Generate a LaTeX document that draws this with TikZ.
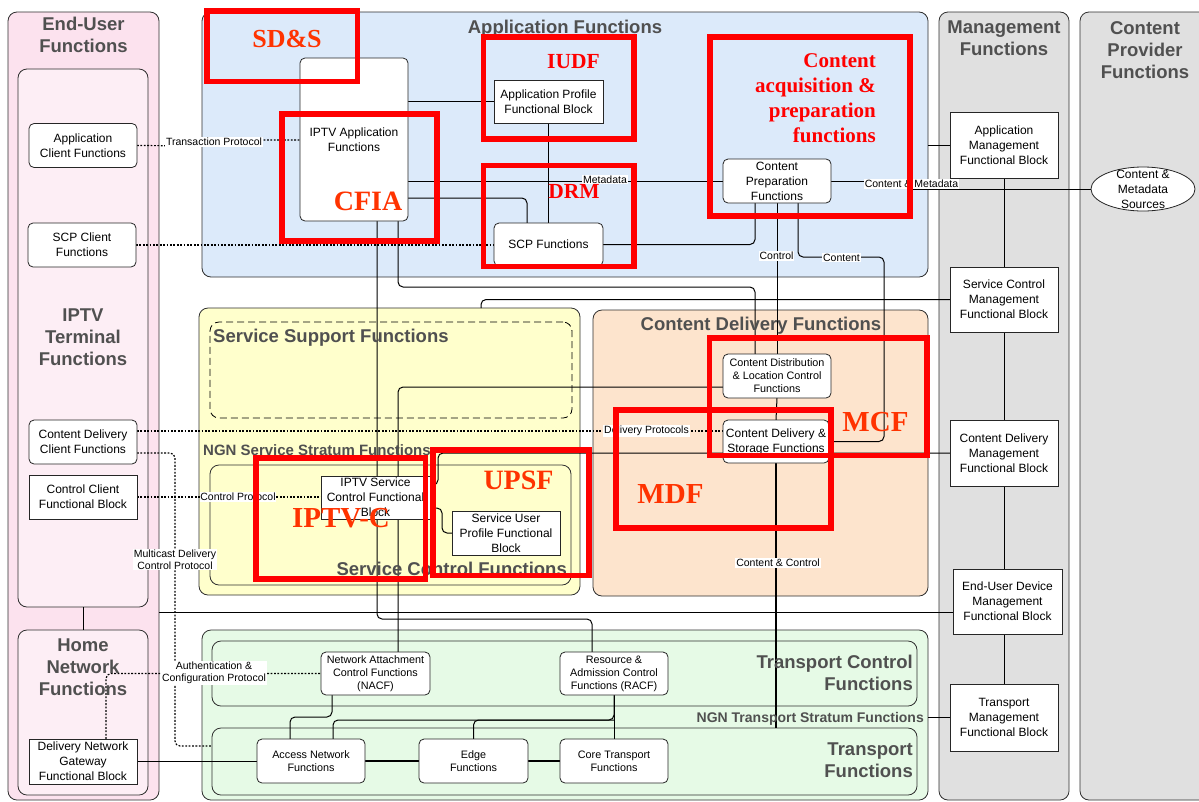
\documentclass[tikz,border=0pt]{standalone}
\usepackage{fontspec}
\setmainfont{Liberation Sans}
\newfontfamily\tagserif{Liberation Serif}
\usetikzlibrary{calc,shapes.geometric}
\pgfdeclarelayer{zones}
\pgfdeclarelayer{wires}
\pgfdeclarelayer{marks}
\pgfsetlayers{zones,wires,main,marks}

\definecolor{pinkA}{RGB}{252,226,238}
\definecolor{pinkB}{RGB}{253,238,245}
\definecolor{appblue}{RGB}{220,234,250}
\definecolor{ssyellow}{RGB}{255,255,204}
\definecolor{cdpeach}{RGB}{253,228,205}
\definecolor{trgreen}{RGB}{230,250,230}
\definecolor{mgray}{RGB}{224,224,224}
\definecolor{titlegray}{RGB}{80,80,80}
\definecolor{tagred}{RGB}{255,0,0}
\definecolor{tagorange}{RGB}{255,51,0}

\tikzset{
  zone/.style={draw=black!82, line width=0.8pt, rounded corners=9pt, anchor=north west, inner sep=0pt, outer sep=0pt},
  fb/.style={draw=black!85, line width=0.8pt, fill=white, rounded corners=5pt, align=center, inner sep=0pt, outer sep=0pt,
    minimum width=108pt, minimum height=44pt, font=\fontsize{12}{15}\selectfont},
  fbsq/.style={fb, sharp corners},
  fbsm/.style={fb, font=\fontsize{10.8}{13}\selectfont},
  mgblock/.style={fbsq, minimum height=66pt},
  ttl/.style={font=\bfseries\fontsize{18.5}{22}\selectfont, text=titlegray, align=center, inner sep=0pt},
  subttl/.style={font=\bfseries\fontsize{14.5}{17}\selectfont, text=titlegray, inner sep=0pt},
  lab/.style={fill=white, inner sep=0.8pt, font=\fontsize{10.5}{12.5}\selectfont, align=center},
  link/.style={draw=black, line width=1pt, rounded corners=5pt},
  heavylink/.style={draw=black, line width=1.9pt},
  dotlink/.style={draw=black, line width=1.2pt, dash pattern=on 1.8pt off 1.6pt, rounded corners=5pt},
  redframe/.style={draw=tagred, line width=5.5pt},
  redtag/.style={font=\tagserif\bfseries\fontsize{28}{30}\selectfont, text=tagorange, inner sep=0pt},
}

\begin{document}
\begin{tikzpicture}[x=1pt,y=-1pt]
\useasboundingbox (0,0) rectangle (1199,801);

% ---------- functional areas ----------
\begin{pgfonlayer}{zones}
\fill[white] (0,0) rectangle (1199,801);
\begin{scope}
\clip (0,0) rectangle (1199,801);
\node[zone, fill=pinkA, minimum width=151pt, minimum height=788pt] (eu) at (8,12) {};
\node[zone, fill=pinkB, minimum width=130pt, minimum height=538pt] (term) at (18,69) {};
\node[zone, fill=pinkB, minimum width=130pt, minimum height=165pt] (home) at (18,630) {};
\node[zone, fill=appblue, minimum width=726pt, minimum height=265pt] (app) at (202,12) {};
\node[zone, fill=ssyellow, minimum width=381pt, minimum height=287pt] (ngnss) at (199,308) {};
\node[zone, draw=black, dash pattern=on 7pt off 4pt, minimum width=362pt, minimum height=96pt] (ssf) at (210,322) {};
\node[zone, minimum width=361pt, minimum height=120pt] (scf) at (210,465) {};
\node[zone, fill=cdpeach, minimum width=335pt, minimum height=286pt] (cdf) at (593,310) {};
\node[zone, fill=trgreen, minimum width=726pt, minimum height=170pt] (trans) at (202,630) {};
\node[zone, minimum width=705pt, minimum height=65pt] (tcf) at (212,641) {};
\node[zone, minimum width=705pt, minimum height=67pt] (tf) at (212,728) {};
\node[zone, fill=mgray, minimum width=130pt, minimum height=788pt] (mgmt) at (939,12) {};
\node[zone, fill=mgray, minimum width=130pt, minimum height=788pt] (cpz) at (1080,12) {};
\end{scope}
\end{pgfonlayer}

% ---------- area titles ----------
\node[ttl] at (83.5,34.5) {End-User\\Functions};
\node[ttl] at (83,337) {IPTV\\Terminal\\Functions};
\node[ttl] at (83,667) {Home\\Network\\Functions};
\node[ttl] at (565,29) {Application Functions};
\node[ttl] at (1004,38.5) {Management\\Functions};
\node[ttl] at (1145,50) {Content\\Provider\\Functions};
\node[ttl, anchor=west] at (213,338) {Service Support Functions};
\node[subttl, font=\bfseries\fontsize{15}{17}\selectfont, anchor=west] at (203,450) {NGN Service Stratum Functions};
\node[ttl, anchor=east] at (567,568.5) {Service Control Functions};
\node[ttl] at (761,326) {Content Delivery Functions};
\node[ttl, anchor=east, align=right] at (913,673) {Transport Control\\Functions};
\node[subttl, font=\bfseries\fontsize{14}{17}\selectfont, anchor=east] at (924,718.5) {NGN Transport Stratum Functions};
\node[ttl, anchor=east, align=right] at (913,760.5) {Transport\\Functions};

% ---------- functional blocks ----------
\node[fb] (acf) at (83,145.5) {Application\\Client Functions};
\node[fb] (scpc) at (82,245) {SCP Client\\Functions};
\node[fb] (cdcf) at (83,442) {Content Delivery\\Client Functions};
\node[fbsq] (ccfb) at (83,497) {Control Client\\Functional Block};
\node[fbsq, minimum height=45pt] (dngw) at (83,761.5) {Delivery Network\\Gateway\\Functional Block};

\node[fb, minimum height=163pt] (iptvapp) at (354,139.5) {IPTV Application\\Functions};
\node[fbsq, minimum width=109pt, minimum height=43pt] (apfb) at (548.5,101.5) {Application Profile\\Functional Block};
\node[fb, minimum width=109pt, minimum height=43pt] (scpf) at (548.5,244.5) {SCP Functions};
\node[fb] (cpf) at (777,181) {Content\\Preparation\\Functions};
\node[draw=black!85, line width=0.8pt, fill=white, ellipse, minimum width=104pt, minimum height=44pt, inner sep=0pt] (cms) at (1143,189) {};
\node[font=\fontsize{12}{15}\selectfont, align=center, inner sep=0pt] (cmstext) at (cms.center) {Content \&\\Metadata\\Sources};

\node[mgblock] (amfb) at (1004,145) {Application\\Management\\Functional Block};
\node[mgblock, minimum height=65pt] (scmfb) at (1004,299.5) {Service Control\\Management\\Functional Block};
\node[mgblock] (cdmfb) at (1004,453) {Content Delivery\\Management\\Functional Block};
\node[mgblock, minimum width=109pt, minimum height=65pt] (eudmfb) at (1007.5,601.5) {End-User Device\\Management\\Functional Block};
\node[mgblock, minimum height=67pt] (tmfb) at (1004,717.5) {Transport\\Management\\Functional Block};

\node[fbsm] (cdlc) at (777,376) {Content Distribution\\\& Location Control\\Functions};
\node[fb, minimum width=106pt, minimum height=43pt] (cds) at (776,441.5) {Content Delivery \&\\Storage Functions};

\node[fbsq, minimum width=109pt, minimum height=43pt] (iptvscfb) at (375.5,497.5) {IPTV Service\\Control Functional\\Block};
\node[fbsq] (supfb) at (506,533) {Service User\\Profile Functional\\Block};

\node[fbsm, minimum width=109pt, minimum height=43pt] (nacf) at (375.5,673.5) {Network Attachment\\Control Functions\\(NACF)};
\node[fbsm, minimum height=43pt] (racf) at (614,673.5) {Resource \&\\Admission Control\\Functions (RACF)};
\node[fbsm] (anf) at (311,761) {Access Network\\Functions};
\node[fbsm, minimum width=109pt] (ef) at (473.5,761) {Edge\\Functions};
\node[fbsm] (ctf) at (614,761) {Core Transport\\Functions};

% ---------- connectors ----------
\begin{pgfonlayer}{wires}
% protocols towards the terminal
\draw[dotlink, rounded corners=0pt] (acf.east) -- (214,146) -- (214,140) -- (iptvapp.west |- 0,140);
\draw[dotlink] (scpc.east) -- (scpc.east -| scpf.west);
\coordinate (dp) at ($(cdcf.east)+(0,-11)$);
\draw[dotlink] (dp) -- (dp -| cds.west);
\coordinate (mc) at ($(cdcf.east)+(0,11)$);
\draw[dotlink] (mc) -- (175,453) -- (175,746) -- (tf.west |- 0,746);
\draw[dotlink] (ccfb.east) -- (ccfb.east -| iptvscfb.west);
\draw[dotlink] ($(dngw.north)+(23,0)$) |- (nacf.west);

% application functions
\draw[link] (apfb.west -| iptvapp.east) -- (apfb.west);
\draw[link] (apfb.south) -- (scpf.north);
\draw[link] (cpf.west -| iptvapp.east) -- (cpf.west);
\draw[link] ($(iptvapp.east)+(0,58.5)$) -| ($(scpf.north)+(-21.5,0)$);
\draw[link] (scpf.east) -| ($(cpf.south)+(-22,0)$);
\draw[link] (cpf.south) -- (cdlc.north);
\draw[link] ($(cpf.south)+(21,0)$) |- (884,257) |- (cds.east);
\draw[link, rounded corners=0pt] (cpf.east) -- (912,181) -- (912,189) -- (cms.west);

% links leaving the IPTV application functions
\draw[link] ($(iptvapp.south)+(44,0)$) -- ++(0,66) -| ($(cdlc.north)+(-22,0)$);
\draw[link] ($(iptvapp.south)+(23,0)$) |- ($(racf.north)+(-22,-33)$) -- ($(racf.north)+(-22,0)$);

% content delivery
\draw[link] ($(cdlc.west)+(0,11)$) -| ($(nacf.north)+(22.5,0)$);
\draw[link] (cdlc.south) -- (cds.north);
\draw[heavylink] (cds.south) -- (cds.south |- tf.north);

% service control
\draw[link] ($(iptvscfb.east)+(0,-12.5)$) -- ++(8,0) |- (cdmfb.west);
\draw[link] ($(iptvscfb.east)+(0,10.5)$) -- ++(12,0) |- (supfb.west);

% management functions
\draw[link] ($(ngnss.north west)+(282,0)$) |- (scmfb.west);
\coordinate (eul) at ($(eudmfb.west)+(0,10.5)$);
\draw[link] (eul -| eu.east) -- (eul);
\draw[link] (amfb.west -| app.east) -- (amfb.west);
\draw[link] (tmfb.west -| trans.east) -- (tmfb.west);
\draw[link] (amfb.south) -- (scmfb.north);
\draw[link] (scmfb.south) -- (cdmfb.north);
\draw[link] (cdmfb.south) -- (cdmfb.south |- eudmfb.north);
\draw[link] (cdmfb.south |- eudmfb.south) -- (tmfb.north);

% home network and transport
\draw[link] (term.south) -- (home.north);
\draw[heavylink] (dngw.east) -- (dngw.east -| anf.west);
\draw[heavylink] (anf.east) -- (ef.west);
\draw[heavylink] (ef.east) -- (ctf.west);
\draw[link] ($(nacf.south)+(-43.5,0)$) |- ($(anf.north)+(-21,-22)$) -- ($(anf.north)+(-21,0)$);
\draw[link] ($(anf.north)+(22,0)$) |- ($(racf.south)+(0,25)$) -- (racf.south);
\draw[link] (ef.north) |- ($(racf.south)+(0,25)$);
\draw[link] (racf.south) -- (ctf.north);
\end{pgfonlayer}

% ---------- connector labels ----------
\node[lab] at (214,142) {Transaction Protocol};
\node[lab] at (646.5,431) {Delivery Protocols};
\node[lab] at (175,559.5) {Multicast Delivery\\Control Protocol};
\node[lab] at (238,497) {Control Protocol};
\node[lab] at (214,673) {Authentication \&\\Configuration Protocol};
\node[lab] at (605,179.5) {Metadata};
\node[lab] at (776.5,256) {Control};
\node[lab] at (841.5,257.5) {Content};
\node[lab] at (911.5,184) {Content \& Metadata};
\node[lab] at (778,563) {Content \& Control};

% ---------- highlighted groupings ----------
\begin{pgfonlayer}{marks}
\draw[redframe] (207,11) rectangle (357.5,81.5);
\draw[redframe] (483.5,37) rectangle (634,139);
\draw[redframe] (483.5,165.5) rectangle (634,266.5);
\draw[redframe] (282,114) rectangle (437,241);
\draw[redframe] (710,37) rectangle (910,216);
\draw[redframe] (709.5,338) rectangle (927,455.5);
\draw[redframe] (616,410) rectangle (831,528);
\draw[redframe] (256,458) rectangle (425.5,579);
\draw[redframe] (433,450) rectangle (589,575.5);

\node[redtag, font=\tagserif\bfseries\fontsize{26}{28}\selectfont] (tsds) at (287,39) {SD\&S};
\node[redtag, text=tagred, font=\tagserif\bfseries\fontsize{21.5}{24}\selectfont] (tiudf) at (573.5,62) {IUDF};
\node[redtag, text=tagred, font=\tagserif\bfseries\fontsize{21.5}{24}\selectfont] (tdrm) at (574,191) {DRM};
\node[redtag] (tcfia) at (368,201) {CFIA};
\node[redtag, text=tagred, font=\tagserif\bfseries\fontsize{21}{24.7}\selectfont, align=right, anchor=north east] (tcap) at (876,53.8) {Content\\acquisition \&\\preparation\\functions};
\node[redtag, font=\tagserif\bfseries\fontsize{29}{31}\selectfont] (tmcf) at (875.5,422.5) {MCF};
\node[redtag, font=\tagserif\bfseries\fontsize{29}{31}\selectfont] (tmdf) at (670.5,494) {MDF};
\node[redtag, font=\tagserif\bfseries\fontsize{29}{31}\selectfont] (tiptvc) at (341,518.5) {IPTV-C};
\node[redtag] (tupsf) at (518.5,480.5) {UPSF};
\end{pgfonlayer}
\end{tikzpicture}
\end{document}
